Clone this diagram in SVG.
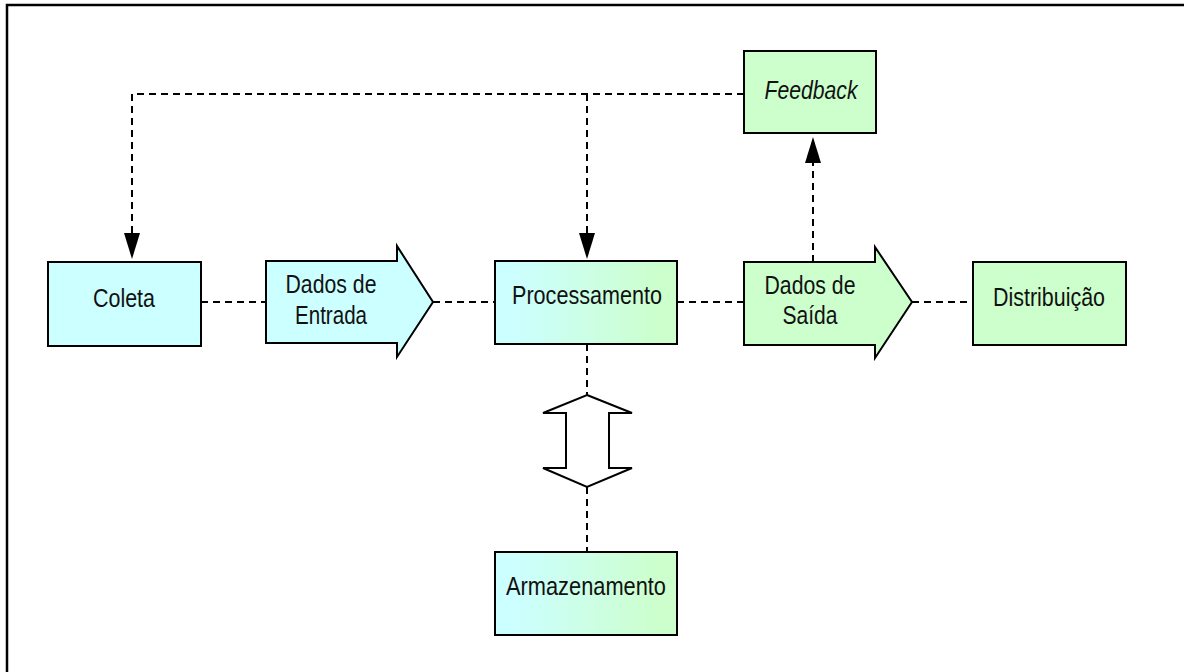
<svg xmlns="http://www.w3.org/2000/svg" width="1184" height="672" viewBox="0 0 1184 672">
  <style>
    .box { stroke: #000; stroke-width: 2; }
    .cyan { fill: #ccffff; }
    .green { fill: #ccffcc; }
    .blend { fill: url(#cyanToGreen); }
    .link { fill: none; stroke: #000; stroke-width: 2; stroke-dasharray: 7 5; }
    .label { font-family: "Liberation Sans Narrow", "Arial Narrow", "Liberation Sans", Arial, sans-serif; font-size: 26px; fill: #111; text-anchor: middle; }
    .italic { font-style: italic; }
  </style>
  <defs>
    <linearGradient id="cyanToGreen" x1="0" y1="0" x2="1" y2="0">
      <stop offset="0.1" stop-color="#ccffff"/>
      <stop offset="0.9" stop-color="#ccffcc"/>
    </linearGradient>
    <marker id="head" viewBox="0 0 26 16" markerUnits="userSpaceOnUse" markerWidth="26" markerHeight="16" refX="22" refY="8" orient="auto">
      <path d="M0,0 L26,8 L0,16 Z" fill="#000"/>
    </marker>
  </defs>

  <rect width="1184" height="672" fill="#fff"/>
  <!-- outer frame -->
  <rect x="7" y="5" width="1200" height="700" fill="none" stroke="#000" stroke-width="2.5"/>

  <!-- connectors -->
  <g id="connectors">
    <path class="link" d="M744,94 H132 V255" marker-end="url(#head)"/>
    <path class="link" d="M587,94 V255" marker-end="url(#head)"/>
    <path class="link" d="M813,262 V141" marker-end="url(#head)"/>
    <path class="link" d="M201,302 H266"/>
    <path class="link" d="M433,302 H495"/>
    <path class="link" d="M677,302 H744"/>
    <path class="link" d="M912,302 H973"/>
    <path class="link" d="M587,344 V395"/>
    <path class="link" d="M587,487 V552"/>
  </g>

  <g id="coleta">
    <rect class="box cyan" x="48" y="262" width="153" height="84"/>
    <text class="label" x="124" y="307" textLength="62" lengthAdjust="spacingAndGlyphs">Coleta</text>
  </g>

  <g id="dados-entrada">
    <polygon class="box cyan" points="266,261 397,261 397,246 433,302 397,357 397,343 266,343"/>
    <text class="label" x="331" y="293" textLength="91" lengthAdjust="spacingAndGlyphs">Dados de</text>
    <text class="label" x="331" y="324" textLength="72" lengthAdjust="spacingAndGlyphs">Entrada</text>
  </g>

  <g id="processamento">
    <rect class="box blend" x="495" y="261" width="182" height="83"/>
    <text class="label" x="587" y="304" textLength="150" lengthAdjust="spacingAndGlyphs">Processamento</text>
  </g>

  <g id="dados-saida">
    <polygon class="box green" points="744,262 875,262 875,247 912,302 875,358 875,345 744,345"/>
    <text class="label" x="810" y="294" textLength="91" lengthAdjust="spacingAndGlyphs">Dados de</text>
    <text class="label" x="810" y="324" textLength="55" lengthAdjust="spacingAndGlyphs">Saída</text>
  </g>

  <g id="distribuicao">
    <rect class="box green" x="973" y="262" width="153" height="83"/>
    <text class="label" x="1049" y="306" textLength="112" lengthAdjust="spacingAndGlyphs">Distribuição</text>
  </g>

  <g id="feedback">
    <rect class="box green" x="744" y="51" width="132" height="82"/>
    <text class="label italic" x="811" y="99" textLength="93" lengthAdjust="spacingAndGlyphs">Feedback</text>
  </g>

  <g id="troca">
    <polygon class="box" fill="#fff" points="587,395 632,413 609,413 609,468 632,468 587,487 543,468 566,468 566,413 543,413"/>
  </g>

  <g id="armazenamento">
    <rect class="box blend" x="495" y="552" width="182" height="83"/>
    <text class="label" x="586" y="595" textLength="160" lengthAdjust="spacingAndGlyphs">Armazenamento</text>
  </g>
</svg>
